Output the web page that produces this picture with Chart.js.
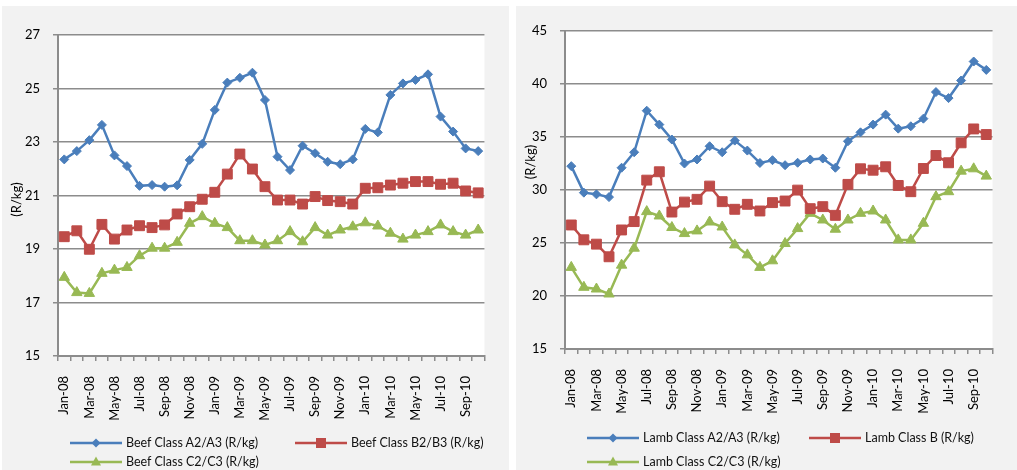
<!DOCTYPE html>
<html lang="en">
<head>
    <meta charset="UTF-8">
    <title>Beef and Lamb prices (R/kg)</title>
    <script src="https://cdn.jsdelivr.net/npm/chart.js"></script>
    <style>
        body { margin: 0; background: #fff; width: 1017px; height: 470px; position: relative; overflow: hidden; font-family: Lato, "Liberation Sans", sans-serif; }
        .panel { position: absolute; top: 6px; height: 464px; background: #f2f2f2; }
        .legend-item { position: absolute; display: flex; align-items: center; font-size: 12.5px; color: #111; white-space: nowrap; }
        .legend-item svg { margin-right: 4px; }
    </style>
</head>
<body>
    <div class="panel" style="left:2px;width:507px;"><canvas id="beefChart"></canvas></div>
    <div class="panel" style="left:516px;width:501px;"><canvas id="lambChart"></canvas></div>
    <div id="legends"></div>

    <script>
        // months Jan-08 .. Oct-10
        const months = ['Jan-08','Feb-08','Mar-08','Apr-08','May-08','Jun-08','Jul-08','Aug-08','Sep-08','Oct-08','Nov-08','Dec-08',
                        'Jan-09','Feb-09','Mar-09','Apr-09','May-09','Jun-09','Jul-09','Aug-09','Sep-09','Oct-09','Nov-09','Dec-09',
                        'Jan-10','Feb-10','Mar-10','Apr-10','May-10','Jun-10','Jul-10','Aug-10','Sep-10','Oct-10'];

        // beef (R/kg)
        const beefA = [22.35,22.66,23.07,23.64,22.5,22.1,21.36,21.39,21.33,21.38,22.33,22.93,24.2,25.22,25.4,25.59,24.57,22.45,21.95,22.86,22.58,22.26,22.17,22.35,23.49,23.36,24.76,25.19,25.32,25.53,23.95,23.39,22.76,22.66];
        const beefB = [19.46,19.68,18.99,19.92,19.37,19.71,19.87,19.8,19.9,20.31,20.58,20.86,21.12,21.8,22.55,21.99,21.33,20.83,20.83,20.68,20.96,20.81,20.77,20.68,21.27,21.29,21.39,21.46,21.52,21.52,21.42,21.46,21.17,21.1];
        const beefC = [17.94,17.37,17.34,18.09,18.21,18.31,18.75,19.03,19.03,19.25,19.96,20.21,19.96,19.8,19.31,19.31,19.15,19.31,19.65,19.27,19.8,19.52,19.71,19.83,19.98,19.86,19.59,19.37,19.52,19.65,19.9,19.65,19.52,19.71];

        // lamb (R/kg)
        const lambA = [32.25,29.75,29.59,29.33,32.1,33.56,37.48,36.17,34.76,32.5,32.88,34.13,33.56,34.66,33.72,32.55,32.81,32.34,32.57,32.88,32.97,32.1,34.6,35.44,36.17,37.11,35.79,36.01,36.73,39.24,38.67,40.33,42.12,41.33];
        const lambB = [26.7,25.3,24.89,23.7,26.23,27.02,30.93,31.72,27.92,28.86,29.12,30.37,28.9,28.18,28.65,28.02,28.81,28.96,29.99,28.24,28.43,27.61,30.53,32.0,31.87,32.19,30.43,29.84,32.03,33.25,32.57,34.45,35.76,35.23];
        const lambC = [22.7,20.82,20.66,20.19,22.91,24.51,27.96,27.55,26.46,25.89,26.14,26.98,26.51,24.82,23.88,22.7,23.32,24.95,26.36,27.8,27.17,26.3,27.17,27.8,28.02,27.17,25.29,25.29,26.86,29.37,29.84,31.78,32.0,31.31];

        const beefNames = ['Beef Class A2/A3 (R/kg)', 'Beef Class B2/B3 (R/kg)', 'Beef Class C2/C3 (R/kg)'];
        const lambNames = ['Lamb Class A2/A3 (R/kg)', 'Lamb Class B (R/kg)', 'Lamb Class C2/C3 (R/kg)'];

        const colors = ['#4a7ebb', '#be4b48', '#98b954'];
        const markers = ['rectRot', 'rect', 'triangle'];
        const markerSize = [4.5, 7, 6];
        const gridColor = '#8c8c8c';

        // white plot area on the grey panel
        const plotBg = {
            id: 'plotBg',
            beforeDraw(chart) {
                const a = chart.chartArea;
                chart.ctx.save();
                chart.ctx.fillStyle = '#fff';
                chart.ctx.fillRect(a.left, a.top, a.right - a.left, a.bottom - a.top);
                chart.ctx.restore();
            }
        };

        // y axis title, Excel puts it a bit off centre sometimes
        const yTitle = {
            id: 'yTitle',
            afterDraw(chart, args, opts) {
                const a = chart.chartArea;
                const ctx = chart.ctx;
                ctx.save();
                ctx.translate(15, (a.top + a.bottom) / 2 + (opts.shift || 0));
                ctx.rotate(-Math.PI / 2);
                ctx.font = '13px Lato';
                ctx.fillStyle = '#000';
                ctx.textAlign = 'center';
                ctx.textBaseline = 'middle';
                ctx.fillText('(R/kg)', 0, 0);
                ctx.restore();
            }
        };

        function makeDatasets(names, series) {
            return series.map((s, i) => ({
                label: names[i],
                data: s,
                borderColor: colors[i],
                backgroundColor: colors[i],
                borderWidth: 2.5,
                pointStyle: markers[i],
                pointRadius: markerSize[i],
                pointHoverRadius: markerSize[i],
                pointBorderWidth: 1,
                tension: 0
            }));
        }

        function makeChart(id, names, series, yMin, yMax, step, yWidth, pad, titleShift) {
            return new Chart(document.getElementById(id), {
                type: 'line',
                data: { labels: months, datasets: makeDatasets(names, series) },
                plugins: [plotBg, yTitle],
                options: {
                    responsive: true,
                    maintainAspectRatio: false,
                    animation: false,
                    layout: { padding: pad },
                    plugins: { legend: { display: false }, tooltip: { enabled: false }, yTitle: { shift: titleShift } },
                    scales: {
                        x: {
                            offset: true,
                            grid: { offset: true, drawOnChartArea: false, drawTicks: true, tickLength: 5, color: gridColor, lineWidth: 1.5 },
                            border: { color: gridColor, width: 2 },
                            ticks: {
                                autoSkip: false, minRotation: 90, maxRotation: 90, padding: 15,
                                color: '#000', font: { family: 'Lato', size: 13 },
                                callback: (v, i) => i % 2 === 0 ? months[i] : ''
                            },
                            afterFit(scale) { scale.height = 80; }
                        },
                        y: {
                            min: yMin, max: yMax,
                            grid: { color: gridColor, lineWidth: 1.5, tickLength: 5 },
                            border: { color: gridColor, width: 2 },
                            ticks: { stepSize: step, padding: 13, color: '#000', font: { family: 'Lato', size: 13 } },
                            afterFit(scale) { scale.width = yWidth; }
                        }
                    }
                }
            });
        }

        makeChart('beefChart', beefNames, [beefA, beefB, beefC], 15, 27, 2, 56, { left: 0, top: 29, right: 15, bottom: 34 }, 4);
        makeChart('lambChart', lambNames, [lambA, lambB, lambC], 15, 45, 5, 49, { left: 0, top: 25, right: 9, bottom: 41 }, -28);

        // legend (line + marker, Excel style)
        function markerSvg(i) {
            const c = colors[i];
            let shape;
            if (i === 0) shape = `<polygon points="26,1.5 30.5,6 26,10.5 21.5,6" fill="${c}"/>`;
            else if (i === 1) shape = `<rect x="21" y="1" width="10" height="10" fill="${c}"/>`;
            else shape = `<polygon points="26,0.5 31,9.5 21,9.5" fill="${c}"/>`;
            return `<svg width="52" height="12"><line x1="0" y1="6" x2="52" y2="6" stroke="${c}" stroke-width="2.5"/>${shape}</svg>`;
        }

        const legendSpots = [
            { names: beefNames, pos: [[70, 443], [295, 443], [70, 462]] },
            { names: lambNames, pos: [[587, 438], [809, 438], [587, 462]] }
        ];
        const box = document.getElementById('legends');
        legendSpots.forEach(g => {
            g.names.forEach((n, i) => {
                const el = document.createElement('div');
                el.className = 'legend-item';
                el.style.left = g.pos[i][0] + 'px';
                el.style.top = (g.pos[i][1] - 8) + 'px';
                el.innerHTML = markerSvg(i) + '<span>' + n + '</span>';
                box.appendChild(el);
            });
        });
    </script>
</body>
</html>
